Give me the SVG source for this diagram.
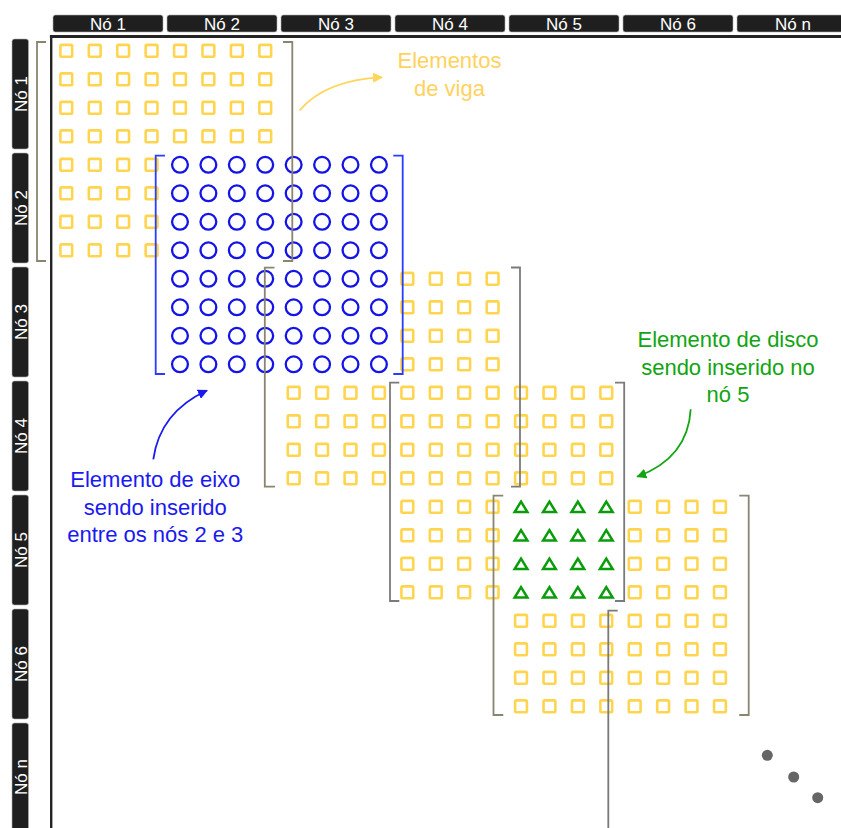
<svg xmlns="http://www.w3.org/2000/svg" xmlns:xlink="http://www.w3.org/1999/xlink" width="841" height="828" viewBox="0 0 841 828">
<style>
.hdr{fill:#1f1f1f;stroke:#b0b0b0;stroke-width:0.6}
.hdt{font-family:"Liberation Sans",Arial,sans-serif;font-size:17px;fill:#ffffff;text-anchor:middle}
.sq{fill:none;stroke:#FFD54F;stroke-width:2.6}
.ci{fill:none;stroke:#1414e6;stroke-width:2.3}
.tr{fill:none;stroke:#0a9c0a;stroke-width:2.5}
.brg{fill:none;stroke:#8a8470;stroke-width:1.8}
.brk{fill:none;stroke:#7a7a7a;stroke-width:1.8}
.brb{fill:none;stroke:#2a3cff;stroke-width:1.8}
.ann{font-family:"Liberation Sans",Arial,sans-serif;font-size:22px;text-anchor:middle}
</style>
<defs>
<rect id="sq" class="sq" x="-5.9" y="-5.9" width="11.8" height="11.8" rx="1.2"/>
<circle id="ci" class="ci" r="7.9"/>
<polygon id="tr" class="tr" points="0,-5.2 6.4,5.3 -6.4,5.3"/>
<g id="Bsq">
<use href="#sq" x="0" y="0"/><use href="#sq" x="28.42" y="0"/><use href="#sq" x="56.84" y="0"/><use href="#sq" x="85.26" y="0"/>
<use href="#sq" x="0" y="28.5"/><use href="#sq" x="28.42" y="28.5"/><use href="#sq" x="56.84" y="28.5"/><use href="#sq" x="85.26" y="28.5"/>
<use href="#sq" x="0" y="57"/><use href="#sq" x="28.42" y="57"/><use href="#sq" x="56.84" y="57"/><use href="#sq" x="85.26" y="57"/>
<use href="#sq" x="0" y="85.5"/><use href="#sq" x="28.42" y="85.5"/><use href="#sq" x="56.84" y="85.5"/><use href="#sq" x="85.26" y="85.5"/>
</g>
<g id="Bci">
<use href="#ci" x="0" y="0"/><use href="#ci" x="28.42" y="0"/><use href="#ci" x="56.84" y="0"/><use href="#ci" x="85.26" y="0"/>
<use href="#ci" x="0" y="28.5"/><use href="#ci" x="28.42" y="28.5"/><use href="#ci" x="56.84" y="28.5"/><use href="#ci" x="85.26" y="28.5"/>
<use href="#ci" x="0" y="57"/><use href="#ci" x="28.42" y="57"/><use href="#ci" x="56.84" y="57"/><use href="#ci" x="85.26" y="57"/>
<use href="#ci" x="0" y="85.5"/><use href="#ci" x="28.42" y="85.5"/><use href="#ci" x="56.84" y="85.5"/><use href="#ci" x="85.26" y="85.5"/>
</g>
<g id="Btr">
<use href="#tr" x="0" y="0"/><use href="#tr" x="28.42" y="0"/><use href="#tr" x="56.84" y="0"/><use href="#tr" x="85.26" y="0"/>
<use href="#tr" x="0" y="28.5"/><use href="#tr" x="28.42" y="28.5"/><use href="#tr" x="56.84" y="28.5"/><use href="#tr" x="85.26" y="28.5"/>
<use href="#tr" x="0" y="57"/><use href="#tr" x="28.42" y="57"/><use href="#tr" x="56.84" y="57"/><use href="#tr" x="85.26" y="57"/>
<use href="#tr" x="0" y="85.5"/><use href="#tr" x="28.42" y="85.5"/><use href="#tr" x="56.84" y="85.5"/><use href="#tr" x="85.26" y="85.5"/>
</g>
<marker id="ahY" viewBox="0 0 10 10" refX="9" refY="5" markerWidth="10" markerHeight="10" markerUnits="userSpaceOnUse" orient="auto"><path d="M0,0 L10,5 L0,10 z" fill="#FFD55C"/></marker>
<marker id="ahB" viewBox="0 0 10 10" refX="9" refY="5" markerWidth="10" markerHeight="10" markerUnits="userSpaceOnUse" orient="auto"><path d="M0,0 L10,5 L0,10 z" fill="#1a1af0"/></marker>
<marker id="ahG" viewBox="0 0 10 10" refX="9" refY="5" markerWidth="10" markerHeight="10" markerUnits="userSpaceOnUse" orient="auto"><path d="M0,0 L10,5 L0,10 z" fill="#12a512"/></marker>
</defs>
<rect width="841" height="828" fill="#ffffff"/>

<g id="cabecalho-colunas">
<rect class="hdr" x="53" y="15" width="110" height="17" rx="2.5"/><text class="hdt" x="108" y="29.6">Nó 1</text>
<rect class="hdr" x="167" y="15" width="110" height="17" rx="2.5"/><text class="hdt" x="222" y="29.6">Nó 2</text>
<rect class="hdr" x="281" y="15" width="110" height="17" rx="2.5"/><text class="hdt" x="336" y="29.6">Nó 3</text>
<rect class="hdr" x="395" y="15" width="110" height="17" rx="2.5"/><text class="hdt" x="450" y="29.6">Nó 4</text>
<rect class="hdr" x="509" y="15" width="110" height="17" rx="2.5"/><text class="hdt" x="564" y="29.6">Nó 5</text>
<rect class="hdr" x="623" y="15" width="110" height="17" rx="2.5"/><text class="hdt" x="678" y="29.6">Nó 6</text>
<rect class="hdr" x="737" y="15" width="112" height="17" rx="2.5"/><text class="hdt" x="793" y="29.6">Nó n</text>
</g>

<g id="cabecalho-linhas">
<rect class="hdr" x="12" y="39" width="16.5" height="110" rx="2.5"/><text class="hdt" transform="translate(20.3,94) rotate(-90)" y="6.2">Nó 1</text>
<rect class="hdr" x="12" y="153" width="16.5" height="110" rx="2.5"/><text class="hdt" transform="translate(20.3,208) rotate(-90)" y="6.2">Nó 2</text>
<rect class="hdr" x="12" y="267" width="16.5" height="110" rx="2.5"/><text class="hdt" transform="translate(20.3,322) rotate(-90)" y="6.2">Nó 3</text>
<rect class="hdr" x="12" y="381" width="16.5" height="110" rx="2.5"/><text class="hdt" transform="translate(20.3,436) rotate(-90)" y="6.2">Nó 4</text>
<rect class="hdr" x="12" y="495" width="16.5" height="110" rx="2.5"/><text class="hdt" transform="translate(20.3,550) rotate(-90)" y="6.2">Nó 5</text>
<rect class="hdr" x="12" y="609" width="16.5" height="110" rx="2.5"/><text class="hdt" transform="translate(20.3,664) rotate(-90)" y="6.2">Nó 6</text>
<rect class="hdr" x="12" y="723" width="16.5" height="112" rx="2.5"/><text class="hdt" transform="translate(20.3,777) rotate(-90)" y="6.2">Nó n</text>
</g>

<g id="moldura">
<line x1="49.9" y1="36.6" x2="841" y2="36.6" stroke="#242424" stroke-width="3"/>
<line x1="51.2" y1="35.2" x2="51.2" y2="828" stroke="#242424" stroke-width="2.4"/>
</g>

<g id="viga-1">
<use href="#Bsq" x="66.3" y="50.8"/>
<use href="#Bsq" x="179.98" y="50.8"/>
<use href="#Bsq" x="66.3" y="164.8"/>
</g>
<g id="eixo">
<use href="#Bci" x="179.98" y="164.8"/>
<use href="#Bci" x="293.66" y="164.8"/>
<use href="#Bci" x="179.98" y="278.8"/>
<use href="#Bci" x="293.66" y="278.8"/>
</g>
<g id="viga-2">
<use href="#Bsq" x="407.34" y="278.8"/>
<use href="#Bsq" x="293.66" y="392.8"/>
</g>
<g id="viga-3">
<use href="#Bsq" x="407.34" y="392.8"/>
<use href="#Bsq" x="521.02" y="392.8"/>
<use href="#Bsq" x="407.34" y="506.8"/>
</g>
<g id="disco">
<use href="#Btr" x="521.02" y="506.8"/>
</g>
<g id="viga-4">
<use href="#Bsq" x="634.7" y="506.8"/>
<use href="#Bsq" x="521.02" y="620.8"/>
<use href="#Bsq" x="634.7" y="620.8"/>
</g>

<g id="colchetes">
<path class="brg" d="M46,42 H37 V261 H46"/>
<path class="brg" d="M283,42 H292.3 V261 H283"/>
<path class="brb" d="M165,155.7 H155.7 V374 H165"/>
<path class="brb" d="M393.3,155.7 H402.7 V374 H393.3"/>
<path class="brg" d="M274.5,267.7 H264.8 V486.7 H275"/>
<path class="brk" d="M511,267.5 H520 V486.7 H511"/>
<path class="brk" d="M399.3,382.7 H390 V601 H399.3"/>
<path class="brk" d="M615,382.7 H624.2 V601 H615"/>
<path class="brg" d="M503.3,495.7 H493.5 V715 H503.3"/>
<path class="brg" d="M739.3,495.7 H748.7 V715 H739.3"/>
<path class="brk" d="M617.7,610.7 H608.3 V828"/>
</g>

<g id="reticencias" fill="#666666">
<circle cx="767.3" cy="755.3" r="5.5"/>
<circle cx="793.7" cy="777" r="5.5"/>
<circle cx="817.7" cy="797.7" r="5.5"/>
</g>

<g id="rotulo-viga" class="ann" fill="#FFD25E">
<text x="449.5" y="68">Elementos</text>
<text x="449.5" y="96">de viga</text>
</g>
<g id="rotulo-eixo" class="ann" fill="#1a1af0">
<text x="155.3" y="487">Elemento de eixo</text>
<text x="155.3" y="514.5">sendo inserido</text>
<text x="155.3" y="542">entre os nós 2 e 3</text>
</g>
<g id="rotulo-disco" class="ann" fill="#12a512">
<text x="728" y="347">Elemento de disco</text>
<text x="728" y="374.5">sendo inserido no</text>
<text x="728" y="402">nó 5</text>
</g>

<g id="conectores" fill="none" stroke-width="1.8">
<path d="M299.5,110.5 Q325,80 382,77.3" stroke="#FFD55C" marker-end="url(#ahY)"/>
<path d="M153.3,459.3 Q160,412 207,390.5" stroke="#1a1af0" marker-end="url(#ahB)"/>
<path d="M690.7,409.3 Q688,458 637.3,476.7" stroke="#12a512" marker-end="url(#ahG)"/>
</g>
</svg>
